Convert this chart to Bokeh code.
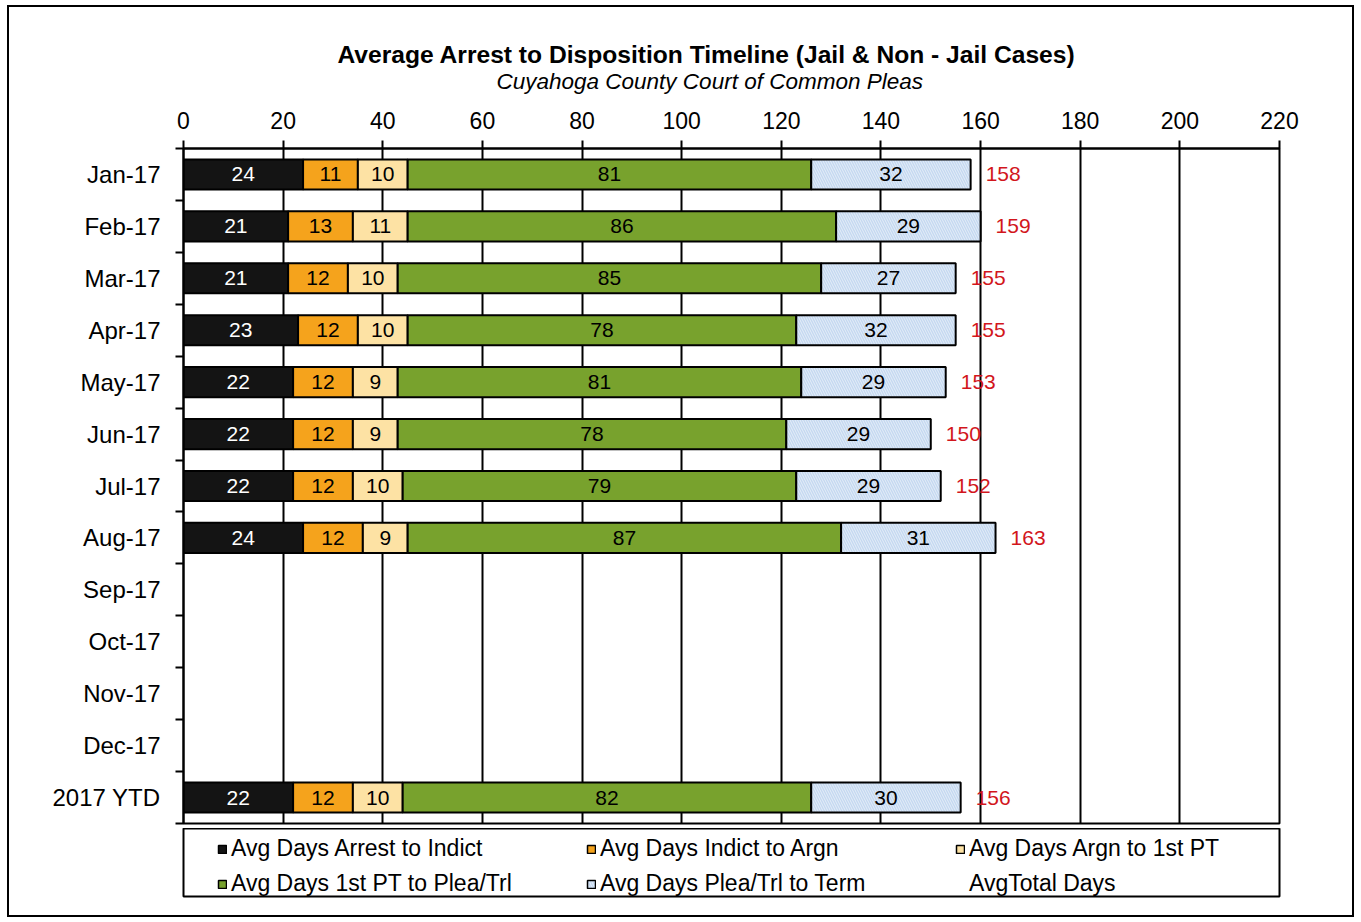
from bokeh.plotting import figure
from bokeh.layouts import column
from bokeh.models import Range1d, FixedTicker, Title, Legend, LegendItem, ColumnDataSource
from bokeh.core.properties import value
from bokeh.embed import file_html
from bokeh.resources import INLINE

# ---------------- data ----------------
categories = ["Jan-17", "Feb-17", "Mar-17", "Apr-17", "May-17", "Jun-17", "Jul-17",
              "Aug-17", "Sep-17", "Oct-17", "Nov-17", "Dec-17", "2017 YTD"]
data_rows = ["Jan-17", "Feb-17", "Mar-17", "Apr-17", "May-17", "Jun-17", "Jul-17",
             "Aug-17", "2017 YTD"]
arrest_to_indict = [24, 21, 21, 23, 22, 22, 22, 24, 22]
indict_to_argn = [11, 13, 12, 12, 12, 12, 12, 12, 12]
argn_to_1st_pt = [10, 11, 10, 10, 9, 9, 10, 9, 10]
pt_to_plea_trl = [81, 86, 85, 78, 81, 78, 79, 87, 82]
plea_trl_to_term = [32, 29, 27, 32, 29, 29, 29, 31, 30]
avg_total_days = [158, 159, 155, 155, 153, 150, 152, 163, 156]

series_names = ["Avg Days Arrest to Indict", "Avg Days Indict to Argn",
                "Avg Days Argn to 1st PT", "Avg Days 1st PT to Plea/Trl",
                "Avg Days Plea/Trl to Term"]
total_name = "AvgTotal Days"
x_ticks = [0, 20, 40, 60, 80, 100, 120, 140, 160, 180, 200, 220]

title_text = "Average Arrest to Disposition  Timeline (Jail & Non - Jail Cases)"
subtitle_text = "Cuyahoga County Court of Common Pleas"

# ---------------- styles ----------------
FONT = "Liberation Sans"
fills = ["#141414", "#f5a31c", "#fde2a4", "#78a22d", "#c4d8f0"]
label_colors = ["white", "black", "black", "black", "black"]
hatch_kw = dict(hatch_pattern="left_diagonal_line", hatch_color="white",
                hatch_alpha=0.55, hatch_scale=5, hatch_weight=1)

series = [arrest_to_indict, indict_to_argn, argn_to_1st_pt, pt_to_plea_trl, plea_trl_to_term]
ys = [categories.index(c) for c in data_rows]

W = 1347
p = figure(width=W, height=823, output_backend="svg", toolbar_location=None,
           x_range=Range1d(0, 220), y_range=Range1d(len(categories) - 0.5, -0.5),
           x_axis_location="above",
           min_border_left=174, min_border_right=77, min_border_top=141, min_border_bottom=7,
           title=title_text)
p.styles = {"border": "2px solid black", "border-bottom": "none",
            "margin-left": "7px", "margin-top": "5px"}
p.background_fill_color = "white"
p.border_fill_color = "white"
p.outline_line_color = "black"
p.outline_line_width = 2
p.outline_line_alpha = 1

p.title.text_font = FONT
p.title.text_font_size = "24.6px"
p.title.text_font_style = "bold"
p.title.text_color = "black"
p.title.align = "left"
p.title.offset = 154
try:
    p.title.standoff = -33
except Exception:
    p.title.standoff = 0
sub = Title(text=subtitle_text, text_font=FONT, text_font_size="22.5px", text_color="black",
            text_font_style="italic", align="left", offset=313, standoff=30)
p.add_layout(sub, "above")

# grid
p.ygrid.visible = False
p.xgrid.grid_line_color = "black"
p.xgrid.grid_line_width = 2
p.xgrid.grid_line_alpha = 1
p.xgrid.ticker = FixedTicker(ticks=x_ticks)

# x axis
xa = p.xaxis[0]
xa.ticker = FixedTicker(ticks=x_ticks)
xa.axis_line_width = 2
xa.axis_line_color = "black"
xa.major_tick_line_width = 2
xa.major_tick_line_color = "black"
xa.major_tick_in = 0
xa.major_tick_out = 8
xa.minor_tick_line_color = None
xa.major_label_text_font = FONT
xa.major_label_text_font_size = "23px"
xa.major_label_text_color = "black"
xa.major_label_standoff = 12

# y axis
ya = p.yaxis[0]
centers = list(range(len(categories)))
bounds = [i - 0.5 for i in range(len(categories) + 1)]
ya.ticker = FixedTicker(ticks=centers, minor_ticks=bounds)
ya.major_label_overrides = {i: c for i, c in enumerate(categories)}
ya.axis_line_width = 2
ya.axis_line_color = "black"
ya.major_tick_line_color = None
ya.major_tick_in = 0
ya.major_tick_out = 0
ya.minor_tick_in = 0
ya.minor_tick_out = 8
ya.minor_tick_line_width = 2
ya.minor_tick_line_color = "black"
ya.major_label_text_font = FONT
ya.major_label_text_font_size = "24px"
ya.major_label_text_color = "black"
ya.major_label_standoff = 15

# bars
left = [0] * len(ys)
for k, vals in enumerate(series):
    right = [l + v for l, v in zip(left, vals)]
    mid = [l + v / 2 for l, v in zip(left, vals)]
    src = ColumnDataSource(dict(y=ys, left=left, right=right, mid=mid,
                                lab=[str(v) for v in vals]))
    kw = hatch_kw if k == 4 else {}
    p.hbar(y="y", left="left", right="right", height=0.58, source=src,
           fill_color=fills[k], line_color="black", line_width=2, **kw)
    p.text(x="mid", y="y", text="lab", source=src, text_align="center",
           text_baseline="middle", text_font=value(FONT), text_font_size="21px",
           text_color=label_colors[k])
    left = right

tot_src = ColumnDataSource(dict(x=left, y=ys, lab=[str(v) for v in avg_total_days]))
p.text(x="x", y="y", text="lab", source=tot_src, x_offset=15, text_align="left",
       text_baseline="middle", text_font=value(FONT), text_font_size="21px",
       text_color="#d2161c")

# ---------------- legend strip below the chart ----------------
# its frame outline acts as the legend box
p2 = figure(width=W, height=89, output_backend="svg", toolbar_location=None,
            x_range=Range1d(0, 1), y_range=Range1d(0, 1),
            x_axis_location=None, y_axis_location=None,
            min_border_left=174, min_border_right=77, min_border_top=0, min_border_bottom=21)
p2.styles = {"border": "2px solid black", "border-top": "none", "margin-left": "7px"}
p2.outline_line_color = "black"
p2.outline_line_width = 2
p2.outline_line_alpha = 1
p2.grid.visible = False
p2.background_fill_color = "white"
p2.border_fill_color = "white"

# legend swatches (kept outside the visible range, only their legend glyphs show)
leg_renderers = []
for k in range(5):
    kw = hatch_kw if k == 4 else {}
    r = p2.hbar(y=[5], left=[5], right=[6], height=0.5, fill_color=fills[k],
                line_color="black", line_width=1.5, **kw)
    leg_renderers.append(r)
r_tot = p2.scatter(x=[5], y=[5], size=1, fill_alpha=0, line_alpha=0)

items = [LegendItem(label=n, renderers=[r]) for n, r in zip(series_names, leg_renderers)]
items.append(LegendItem(label=total_name, renderers=[r_tot]))
legend = Legend(items=items, orientation="horizontal", ncols=3, location=(34, -1),
                margin=0, padding=0, spacing=8, glyph_width=10, glyph_height=10,
                label_standoff=4, label_text_font=FONT, label_text_font_size="23px",
                label_text_color="black", label_height=22, label_width=347,
                border_line_color=None, background_fill_alpha=0)
p2.add_layout(legend, "center")

layout = column(p, p2, spacing=0)
open("out.html", "w").write(file_html(layout, INLINE))
